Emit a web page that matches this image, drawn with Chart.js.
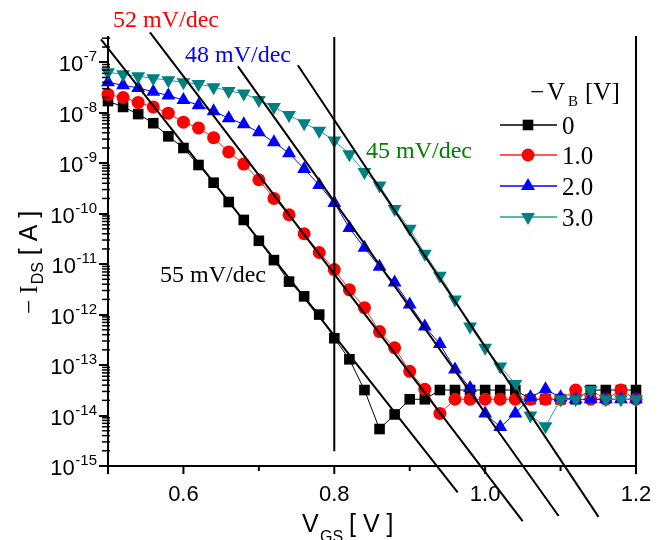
<!DOCTYPE html>
<html>
<head>
<meta charset="utf-8">
<script src="https://cdn.jsdelivr.net/npm/chart.js@4.4.1/dist/chart.umd.min.js"></script>
<style>
html,body{margin:0;padding:0;background:#fff;}
#wrap{width:667px;height:540px;position:relative;}
</style>
</head>
<body>
<div id="wrap"><canvas id="c" width="667" height="540"></canvas></div>
<script>
// ---------------- data ----------------
const vgs = [0.50,0.52,0.54,0.56,0.58,0.60,0.62,0.64,0.66,0.68,0.70,0.72,0.74,0.76,0.78,0.80,0.82,0.84,
             0.86,0.88,0.90,0.92,0.94,0.96,0.98,1.00,1.02,1.04,1.06,1.08,1.10,1.12,1.14,1.16,1.18,1.20];

// -I_DS [A] for -V_B = 0 V
const idsVb0 = [1.7e-8,1.3e-8,9.4e-9,6.2e-9,3.4e-9,2.0e-9,9.2e-10,4.1e-10,1.7e-10,7.5e-11,2.9e-11,1.2e-11,
                4.5e-12,2.3e-12,1.0e-12,3.4e-13,1.3e-13,3.2e-14,5.4e-15,1.05e-14,2.1e-14,2.1e-14,3.2e-14,3.2e-14,
                3.2e-14,3.2e-14,3.2e-14,3.2e-14,2.1e-14,2.1e-14,2.1e-14,2.1e-14,3.2e-14,3.2e-14,3.2e-14,3.2e-14];
// -V_B = 1.0 V
const idsVb1 = [2.3e-8,2.0e-8,1.6e-8,1.3e-8,9.8e-9,6.5e-9,5.0e-9,3.2e-9,1.67e-9,9.6e-10,4.7e-10,2.0e-10,
                9.5e-11,4.0e-11,1.7e-11,7.8e-12,3.1e-12,1.37e-12,4.6e-13,2.2e-13,7.5e-14,3.3e-14,1.1e-14,2.1e-14,
                2.1e-14,2.1e-14,2.1e-14,2.1e-14,2.1e-14,2.1e-14,2.1e-14,3.2e-14,2.1e-14,2.1e-14,3.2e-14,2.1e-14];
// -V_B = 2.0 V
const idsVb2 = [4.0e-8,3.5e-8,3.1e-8,2.6e-8,2.2e-8,1.78e-8,1.41e-8,1.07e-8,7.8e-9,5.9e-9,4.1e-9,2.6e-9,
                1.58e-9,7.7e-10,3.7e-10,1.63e-10,5.2e-11,2.1e-11,8.9e-12,4.3e-12,1.58e-12,5.8e-13,2.6e-13,8.2e-14,
                3.5e-14,1.1e-14,5.9e-15,1.1e-14,2.3e-14,3.3e-14,2.3e-14,2.1e-14,2.1e-14,2.1e-14,2.1e-14,2.1e-14];
// -V_B = 3.0 V
const idsVb3 = [6.3e-8,5.8e-8,5.3e-8,4.8e-8,4.4e-8,4.0e-8,3.7e-8,3.2e-8,2.7e-8,2.4e-8,1.78e-8,1.29e-8,
                9.0e-9,6.2e-9,4.4e-9,2.8e-9,1.5e-9,6.7e-10,3.6e-10,1.24e-10,5.0e-11,1.6e-11,5.9e-12,2.0e-12,
                5.8e-13,2.2e-13,9.4e-14,4.2e-14,1.0e-14,6.1e-15,2.1e-14,2.1e-14,3.2e-14,2.1e-14,2.1e-14,2.1e-14];

// subthreshold-slope fit lines: [VGS, I] end points
const fitVb0 = [[0.4907,2.85e-7],[0.9636,3.0e-16]];   // 55 mV/dec
const fitVb1 = [[0.5556,3.92e-7],[1.0497,8.1e-17]];   // 52 mV/dec
const fitVb2 = [[0.6722,8.3e-8],[1.0974,1.02e-16]];   // 48 mV/dec
const fitVb3 = [[0.7517,8.7e-8],[1.1503,9.8e-17]];    // 45 mV/dec

// vertical marker at VGS = 0.8 V
const markerLine = [[0.8,3.1623e-7],[0.8,1.95e-15]];

const seriesLabels = ['0','1.0','2.0','3.0'];
const xLabelTicks = [0.6,0.8,1.0,1.2];
const xMinorTicks = [0.5,0.7,0.9,1.1];
const yTickExps = [-15,-14,-13,-12,-11,-10,-9,-8,-7];
const slopeLabels = ['55 mV/dec','52 mV/dec','48 mV/dec','45 mV/dec'];

// ---------------- styling ----------------
const SANS = '"Liberation Sans", Arial, sans-serif';
const SERIF = '"Liberation Serif", "Times New Roman", serif';
const styles = [
  {color:'#000000', line:'#000000', shape:'rect', radius:7.5, rotation:0},
  {color:'#ff0000', line:'#ff2020', shape:'circle', radius:6.5, rotation:0},
  {color:'#0000ff', line:'#0000ff', shape:'triangle', radius:8, rotation:0},
  {color:'#008080', line:'#2f9a9a', shape:'triangle', radius:8, rotation:180}
];
const seriesData = [idsVb0, idsVb1, idsVb2, idsVb3];
const fits = [fitVb0, fitVb1, fitVb2, fitVb3];

const datasets = [];
fits.forEach(f => datasets.push({
  data: f.map(p => ({x:p[0], y:p[1]})),
  borderColor:'#000', borderWidth:2, pointRadius:0, clip:false, order:0, tension:0
}));
datasets.push({
  data: markerLine.map(p => ({x:p[0], y:p[1]})),
  borderColor:'#000', borderWidth:2, pointRadius:0, clip:false, order:0
});
seriesData.forEach((arr, i) => {
  const s = styles[i];
  datasets.push({
    label: seriesLabels[i],
    data: vgs.map((x, j) => ({x, y: arr[j]})),
    borderColor: s.line, borderWidth: 1,
    pointStyle: s.shape, pointRadius: s.radius, pointRotation: s.rotation,
    pointBackgroundColor: s.color, pointBorderColor: s.color, pointBorderWidth: 0,
    clip: false, order: 4 - i, tension: 0
  });
});

function drawMarker(ctx, shape, r, rot, x, y) {
  ctx.beginPath();
  if (shape === 'rect') {
    const h = r * Math.SQRT1_2;
    ctx.rect(x - h, y - h, 2*h, 2*h);
  } else if (shape === 'circle') {
    ctx.arc(x, y, r, 0, Math.PI*2);
  } else {
    let a = rot * Math.PI / 180;
    for (let k = 0; k < 3; k++) {
      const px = x + Math.sin(a) * r, py = y - Math.cos(a) * r;
      if (k === 0) ctx.moveTo(px, py); else ctx.lineTo(px, py);
      a += 2*Math.PI/3;
    }
    ctx.closePath();
  }
  ctx.fill();
}

const decorPlugin = {
  id: 'decor',
  afterDraw(chart) {
    const ctx = chart.ctx, a = chart.chartArea, xs = chart.scales.x, ys = chart.scales.y;
    ctx.save();
    ctx.strokeStyle = '#000';
    // y ticks
    ctx.lineWidth = 2;
    yTickExps.forEach(e => {
      const py = Math.round(ys.getPixelForValue(Math.pow(10, e)));
      ctx.beginPath(); ctx.moveTo(a.left - 9, py); ctx.lineTo(a.left, py); ctx.stroke();
    });
    ctx.lineWidth = 1.5;
    yTickExps.forEach(e => {
      for (let k = 2; k <= 9; k++) {
        const v = k * Math.pow(10, e);
        if (v > ys.max) break;
        const py = ys.getPixelForValue(v);
        ctx.beginPath(); ctx.moveTo(a.left - 6, py); ctx.lineTo(a.left + 2, py); ctx.stroke();
      }
    });
    // x ticks
    ctx.lineWidth = 2;
    xLabelTicks.concat([0.5]).forEach(v => {
      const px = xs.getPixelForValue(v);
      ctx.beginPath(); ctx.moveTo(px, a.bottom); ctx.lineTo(px, a.bottom + 8); ctx.stroke();
    });
    xMinorTicks.forEach(v => {
      const px = xs.getPixelForValue(v);
      ctx.beginPath(); ctx.moveTo(px, a.bottom); ctx.lineTo(px, a.bottom + 5); ctx.stroke();
    });

    // y tick labels with superscripts
    ctx.fillStyle = '#000';
    ctx.textBaseline = 'alphabetic';
    yTickExps.forEach(e => {
      const py = ys.getPixelForValue(Math.pow(10, e));
      const sup = String(e);
      ctx.font = '15px ' + SANS;
      const w2 = ctx.measureText(sup).width;
      const right = a.left - 11;
      ctx.textAlign = 'left';
      ctx.fillText(sup, right - w2, py - 1);
      ctx.font = '22px ' + SANS;
      ctx.textAlign = 'right';
      ctx.fillText('10', right - w2 - 0.5, py + 9);
    });

    // x axis title
    ctx.textAlign = 'left';
    ctx.font = '25px ' + SANS;
    ctx.fillText('V', 302, 532);
    ctx.font = '16px ' + SANS;
    ctx.fillText('GS', 320, 542);
    ctx.font = '25px ' + SANS;
    ctx.fillText('[ V ]', 349, 532);

    // y axis title (rotated)
    ctx.save();
    ctx.translate(37, 314);
    ctx.rotate(-Math.PI/2);
    let cx = 0;
    ctx.font = '25px ' + SERIF;
    ctx.fillText('\u2212 ', cx, 0); cx += ctx.measureText('\u2212 ').width;
    ctx.fillText('I', cx, 0); cx += ctx.measureText('I').width + 1;
    ctx.font = '16px ' + SANS;
    ctx.fillText('DS', cx, 6); cx += ctx.measureText('DS').width;
    ctx.font = '25px ' + SANS;
    ctx.fillText(' [ A ]', cx, 0);
    ctx.restore();

    // slope annotations
    ctx.font = '24px ' + SERIF;
    ctx.fillStyle = '#ff0000'; ctx.fillText(slopeLabels[1], 113, 27);
    ctx.fillStyle = '#0000ff'; ctx.fillText(slopeLabels[2], 185, 62);
    ctx.fillStyle = '#008000'; ctx.fillText(slopeLabels[3], 366, 158);
    ctx.fillStyle = '#000000'; ctx.fillText(slopeLabels[0], 160, 282);

    // legend
    ctx.fillStyle = '#000';
    ctx.font = '25px ' + SERIF;
    ctx.fillText('\u2212', 530, 100);
    ctx.fillText('V', 547, 100);
    ctx.font = '15px ' + SERIF;
    ctx.fillText('B', 568, 106);
    ctx.font = '25px ' + SERIF;
    ctx.fillText('[V]', 585, 100);
    const rows = [125, 155, 186, 217];
    styles.forEach((s, i) => {
      const cy = rows[i];
      ctx.strokeStyle = s.line; ctx.lineWidth = 1.5;
      ctx.beginPath(); ctx.moveTo(500, cy); ctx.lineTo(557, cy); ctx.stroke();
      ctx.fillStyle = s.color;
      drawMarker(ctx, s.shape, s.radius, s.rotation, 528, cy);
      ctx.fillStyle = '#000';
      ctx.font = '25px ' + SERIF;
      ctx.fillText(seriesLabels[i], 562, cy + 8.5);
    });
    ctx.restore();
  }
};

new Chart(document.getElementById('c'), {
  type: 'line',
  data: { datasets },
  options: {
    responsive: false,
    animation: false,
    events: [],
    layout: { padding: { top: 37, left: 0, right: 0, bottom: 0 } },
    plugins: { legend: { display: false }, tooltip: { enabled: false } },
    scales: {
      x: {
        type: 'linear', min: 0.5, max: 1.2, position: 'bottom',
        afterBuildTicks: s => { s.ticks = xLabelTicks.map(v => ({value: v})); },
        ticks: { font: { family: SANS, size: 22 }, color: '#000', padding: 8, maxRotation: 0, autoSkip: false,
                 callback: v => Number(v).toFixed(1) },
        grid: { display: false },
        border: { display: true, color: '#000', width: 2 },
        afterFit: s => { s.height = 74; }
      },
      y: {
        type: 'logarithmic', min: 1e-15, max: 3.1623e-7, position: 'left',
        afterBuildTicks: s => { s.ticks = yTickExps.map(e => ({value: Math.pow(10, e)})); },
        ticks: { display: false },
        grid: { display: false },
        border: { display: true, color: '#000', width: 2 },
        afterFit: s => { s.width = 108; }
      },
      y2: {
        type: 'linear', position: 'right', display: true,
        ticks: { display: false }, grid: { display: false },
        border: { display: true, color: '#000', width: 2 },
        afterFit: s => { s.width = 31; }
      }
    }
  },
  plugins: [decorPlugin]
});
</script>
</body>
</html>
